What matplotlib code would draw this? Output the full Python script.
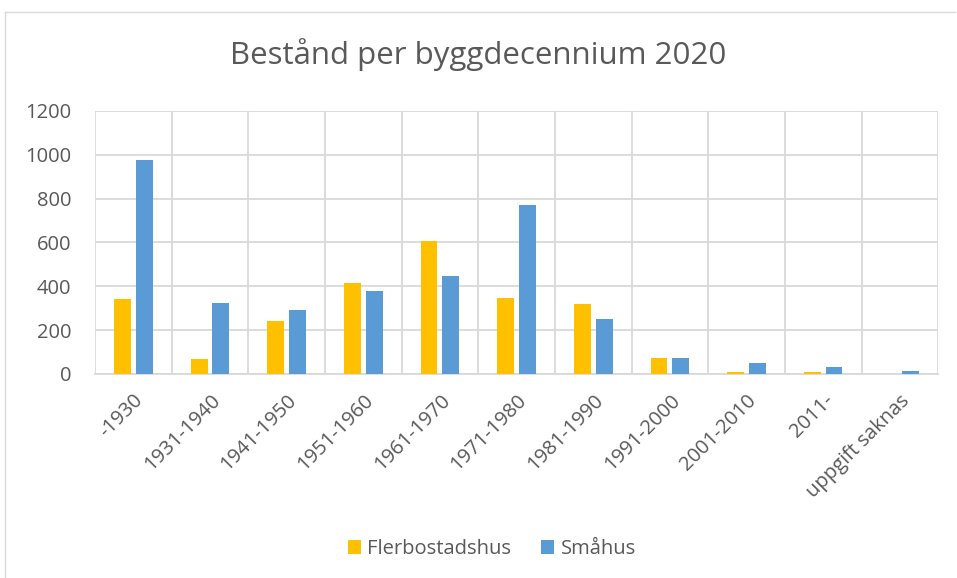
'''Beständ per byggdecennium 2020 - grouped bar chart.'''

# ----------------------------------------------------------------------------
# Modules
from matplotlib import pyplot as plt
from matplotlib.lines import Line2D
import numpy as np

plt.rcParams['font.family'] = ['Open Sans', 'DejaVu Sans']

categories = ['-1930', '1931-1940', '1941-1950', '1951-1960', '1961-1970',
              '1971-1980', '1981-1990', '1991-2000', '2001-2010', '2011-',
              'uppgift saknas']
flerbostadshus = [342, 70, 240, 414, 605, 345, 318, 74, 11, 7, 0]
smahus = [975, 323, 292, 377, 446, 771, 250, 72, 50, 33, 14]
y_ticks = [0, 200, 400, 600, 800, 1000, 1200]

# ----------------------------------------------------------------------------


def main():
    text_color = '#595959'
    grid_color = '#d9d9d9'

    figure = plt.figure(figsize=(9.57, 5.78), dpi=100)
    ax = figure.add_axes([0.0993, 0.353, 0.8810, 0.455])

    x = np.arange(len(categories))
    ax.bar(x - 0.142, flerbostadshus, width=0.22, color='#FFC000',
           label='Flerbostadshus', zorder=3)
    ax.bar(x + 0.142, smahus, width=0.22, color='#5B9BD5',
           label='Småhus', zorder=3)

    ax.set_xlim(-0.5, len(categories) - 0.5)
    ax.set_ylim(0, 1200)
    ax.set_yticks(y_ticks)
    ax.set_yticklabels([str(v) for v in y_ticks], fontsize=14.5,
                       color=text_color)
    ax.set_xticks(x)
    ax.set_xticklabels(categories, fontsize=14.5, color=text_color,
                       rotation=45, ha='right', rotation_mode='anchor')
    ax.set_xticks(np.arange(-0.5, len(categories)), minor=True)
    ax.tick_params(axis='x', which='major', length=0, pad=12)
    ax.tick_params(axis='y', length=0, pad=17)
    ax.tick_params(axis='x', which='minor', length=0)

    ax.grid(True, axis='y', color=grid_color, linewidth=1.3, zorder=0)
    ax.grid(True, axis='x', which='minor', color=grid_color, linewidth=1.3,
            zorder=0)
    for side in ['top', 'left', 'right']:
        ax.spines[side].set_visible(False)
    ax.spines['bottom'].set_color(grid_color)
    ax.spines['bottom'].set_linewidth(1.3)

    figure.suptitle('Bestånd per byggdecennium 2020', fontsize=22.5,
                    color=text_color, y=0.935)

    ax.legend(loc='center', bbox_to_anchor=(0.514, 0.05),
              bbox_transform=figure.transFigure, ncol=2, frameon=False,
              fontsize=14.5, labelcolor=text_color, handlelength=0.65,
              handleheight=0.65, handletextpad=0.3, columnspacing=1.5)

    # chart border
    figure.add_artist(Line2D([0.005, 0.998], [0.979, 0.979],
                             transform=figure.transFigure,
                             color=grid_color, linewidth=1))
    figure.add_artist(Line2D([0.005, 0.005], [0.0, 0.979],
                             transform=figure.transFigure,
                             color=grid_color, linewidth=1))

    plt.savefig('out.png', dpi=100)

    return None

# ----------------------------------------------------------------------------


if __name__ == '__main__':
    main()
